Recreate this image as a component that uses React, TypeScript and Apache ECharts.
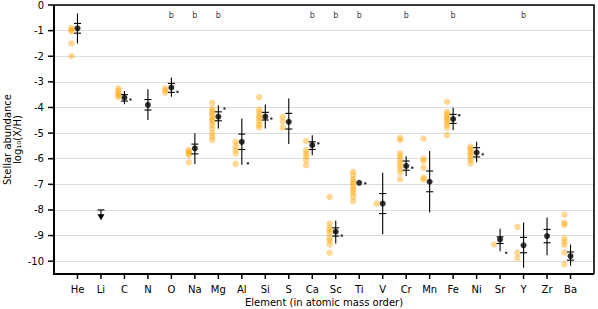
import React, { useEffect, useRef } from "react";
import * as echarts from "echarts";

const elements = ["He", "Li", "C", "N", "O", "Na", "Mg", "Al", "Si", "S", "Ca", "Sc", "Ti", "V", "Cr", "Mn", "Fe", "Ni", "Sr", "Y", "Zr", "Ba"];

const observed: number[][] = [
  [-0.9, -0.97, -1.02, -1.5, -2.0],
  [],
  [-3.25, -3.35, -3.45, -3.52, -3.6],
  [],
  [-3.25, -3.33, -3.42],
  [-5.66, -5.72, -5.8, -5.85, -6.14],
  [-3.82, -4.06, -4.14, -4.24, -4.36, -4.46, -4.55, -4.68, -4.82, -4.99, -5.14, -5.27],
  [-5.34, -5.5, -5.66, -5.8, -6.2],
  [-3.6, -4.08, -4.2, -4.33, -4.42, -4.55, -4.68, -4.78],
  [-4.36, -4.55, -4.79],
  [-5.31, -5.66, -5.8, -5.9, -6.05, -6.25],
  [-7.49, -8.53, -8.7, -8.79, -8.92, -9.1, -9.2, -9.35, -9.67],
  [-6.51, -6.64, -6.8, -6.9, -7.0, -7.12, -7.22, -7.35, -7.48, -7.66],
  [-7.75],
  [-5.18, -5.27, -5.79, -5.9, -6.02, -6.15, -6.28, -6.4, -6.55, -6.8],
  [-5.21, -5.99, -6.09, -6.35, -6.74, -6.8],
  [-3.78, -4.17, -4.27, -4.36, -4.45, -4.55, -4.66, -4.78, -5.08],
  [-5.53, -5.62, -5.72, -5.82, -5.92, -6.05, -6.18],
  [-9.35],
  [-8.66, -9.66, -9.87],
  [],
  [-8.18, -8.5, -8.58, -9.11, -9.24, -9.37, -9.66, -10.12],
];

const meanVals: (number | null)[] = [-0.91, null, -3.62, -3.9, -3.22, -5.6, -4.36, -5.34, -4.36, -4.56, -5.47, -8.85, -6.94, -7.75, -6.28, -6.9, -4.45, -5.76, -9.15, -9.38, -9.02, -9.8];

const outerLo: (number | null)[] = [-1.5, null, -3.87, -4.49, -3.58, -6.21, -4.82, -6.24, -4.82, -5.43, -5.86, -9.31, null, -8.95, -6.67, -8.1, -4.88, -6.14, -9.61, -10.26, -9.77, -10.18];
const outerHi: (number | null)[] = [-0.33, null, -3.36, -3.29, -2.83, -5.01, -3.91, -4.43, -3.88, -3.65, -5.08, -8.42, null, -6.55, -5.9, -5.7, -4.01, -5.34, -8.73, -8.49, -8.29, -9.35];
const innerLo: (number | null)[] = [-1.1, null, -3.75, -4.1, -3.41, -5.81, -4.52, -5.64, -4.49, -4.84, -5.64, -9.02, null, -8.14, -6.45, -7.29, -4.62, -5.93, -9.31, -9.67, -9.28, -9.96];
const innerHi: (number | null)[] = [-0.72, null, -3.5, -3.69, -3.06, -5.43, -4.17, -5.04, -4.19, -4.23, -5.34, -8.7, null, -7.36, -6.09, -6.48, -4.27, -5.57, -9.05, -9.07, -8.76, -9.64];

const modelVals: (number | null)[] = [null, null, -3.69, null, -3.39, null, -4.04, -6.18, -4.43, null, -5.4, -9.0, -6.96, null, -6.35, null, -4.3, -5.83, -9.67, null, null, null];

const flagged = ["O", "Na", "Mg", "Ca", "Sc", "Ti", "Cr", "Fe", "Y"];
const flagLevel = -0.42;

const limitElement = "Li";
const limitTop = -8.0;
const limitTip = -8.4;

const yTicks = [0, -1, -2, -3, -4, -5, -6, -7, -8, -9, -10];
const X_MIN = -1, X_MAX = 22, Y_MIN = -10.5, Y_MAX = 0;

const FONT = "DejaVu Sans";

export default function App() {
  const ref = useRef<HTMLDivElement>(null);
  useEffect(() => {
    if (!ref.current) return;
    const chart = echarts.init(ref.current, null, { renderer: "svg" });

    const obsData: number[][] = [];
    observed.forEach((arr, i) => arr.forEach((v) => obsData.push([i - 0.26, v])));

    const errData: number[][] = [];
    elements.forEach((_, i) => {
      if (outerLo[i] !== null && outerHi[i] !== null) {
        errData.push([i, outerLo[i] as number, outerHi[i] as number, innerLo[i] as number, innerHi[i] as number]);
      }
    });

    const meanData: number[][] = [];
    meanVals.forEach((v, i) => { if (v !== null) meanData.push([i, v]); });
    const modelData: number[][] = [];
    modelVals.forEach((v, i) => { if (v !== null) modelData.push([i + 0.26, v]); });
    const flagData = flagged.map((e) => [elements.indexOf(e), flagLevel]);
    const limIdx = elements.indexOf(limitElement);
    const xTickData = elements.map((_, i) => [i, Y_MIN]);
    const yTickData = yTicks.map((v) => [X_MIN, v]);

    const blk = { stroke: "#000", lineWidth: 1.1 };

    chart.setOption({
      animation: false,
      grid: {
        left: 54, right: 4, top: 5, bottom: 35,
        outerBoundsMode: "none", containLabel: false,
      },
      xAxis: {
        type: "value", min: X_MIN, max: X_MAX, interval: 1, position: "bottom",
        name: "Element (in atomic mass order)", nameLocation: "middle", nameGap: 23, nameMoveOverlap: false,
        nameTextStyle: { fontFamily: FONT, fontSize: 10, color: "#000" },
        axisLine: { show: false },
        axisTick: { show: false },
        axisLabel: {
          margin: 10, fontFamily: FONT, fontSize: 10, color: "#000",
          formatter: (v: number) => elements[Math.round(v)] ?? "",
        },
        splitLine: { show: false },
      },
      yAxis: {
        type: "value", min: Y_MIN, max: Y_MAX, splitNumber: 10, position: "left",
        name: "Stellar abundance\nlog\u2081\u2080(X/H)", nameLocation: "middle", nameGap: 31, nameMoveOverlap: false,
        nameTextStyle: { fontFamily: FONT, fontSize: 10, color: "#000", lineHeight: 10.5 },
        axisLine: { show: false },
        axisTick: { show: false },
        axisLabel: {
          margin: 10, fontFamily: FONT, fontSize: 10, color: "#000",
          formatter: (v: number) => (Number.isInteger(v) ? String(v) : ""),
        },
        splitLine: { show: true, lineStyle: { color: "#dcdcdc", width: 1.2 } },
      },
      series: [
        {
          type: "scatter", data: obsData, symbolSize: 6.5, z: 2,
          itemStyle: { color: "#ffa500", opacity: 0.42 },
        },
        {
          type: "custom", data: errData, z: 3,
          encode: { x: 0, y: [1, 2] },
          renderItem: (params: any, api: any) => {
            const i = api.value(0);
            const a = api.coord([i, api.value(1)]);
            const b = api.coord([i, api.value(2)]);
            const c = api.coord([i, api.value(3)]);
            const d = api.coord([i, api.value(4)]);
            const hw = 3.5;
            return {
              type: "group",
              children: [
                { type: "line", shape: { x1: a[0], y1: a[1], x2: b[0], y2: b[1] }, style: blk },
                { type: "line", shape: { x1: c[0] - hw, y1: c[1], x2: c[0] + hw, y2: c[1] }, style: blk },
                { type: "line", shape: { x1: d[0] - hw, y1: d[1], x2: d[0] + hw, y2: d[1] }, style: blk },
              ],
            };
          },
        },
        {
          type: "custom", data: [[limIdx, limitTop, limitTip]], z: 3,
          encode: { x: 0, y: [1, 2] },
          renderItem: (params: any, api: any) => {
            const i = api.value(0);
            const t = api.coord([i, api.value(1)]);
            const p = api.coord([i, api.value(2)]);
            return {
              type: "group",
              children: [
                { type: "line", shape: { x1: t[0], y1: t[1], x2: p[0], y2: p[1] - 4 }, style: blk },
                { type: "line", shape: { x1: t[0] - 3.5, y1: t[1], x2: t[0] + 3.5, y2: t[1] }, style: blk },
                { type: "polygon", shape: { points: [[p[0] - 3.5, p[1] - 6], [p[0] + 3.5, p[1] - 6], [p[0], p[1]]] }, style: { fill: "#000" } },
              ],
            };
          },
        },
        {
          type: "scatter", data: meanData, symbolSize: 6, z: 4,
          itemStyle: { color: "#000" },
        },
        {
          type: "scatter", data: modelData, symbolSize: 2.5, z: 4,
          itemStyle: { color: "#000" },
        },
        {
          type: "scatter", data: flagData, symbolSize: 1, z: 4,
          itemStyle: { color: "transparent" },
          label: { show: true, position: "inside", formatter: "b", fontFamily: FONT, fontSize: 8, color: "#000" },
        },
        {
          type: "custom", data: xTickData, z: 6, clip: false,
          encode: { x: 0, y: 1 },
          renderItem: (params: any, api: any) => {
            const p = api.coord([api.value(0), api.value(1)]);
            return { type: "line", shape: { x1: p[0], y1: p[1], x2: p[0], y2: p[1] + 5 }, style: { stroke: "#000", lineWidth: 1.5 } };
          },
        },
        {
          type: "custom", data: yTickData, z: 6, clip: false,
          encode: { x: 0, y: 1 },
          renderItem: (params: any, api: any) => {
            const p = api.coord([api.value(0), api.value(1)]);
            return { type: "line", shape: { x1: p[0] - 6, y1: p[1], x2: p[0], y2: p[1] }, style: { stroke: "#000", lineWidth: 1.5 } };
          },
        },
        {
          type: "custom", data: [[X_MIN, Y_MIN, X_MAX, Y_MAX]], z: 7, clip: false,
          encode: { x: [0, 2], y: [1, 3] },
          renderItem: (params: any, api: any) => {
            const bl = api.coord([api.value(0), api.value(1)]);
            const tr = api.coord([api.value(2), api.value(3)]);
            return {
              type: "group",
              children: [
                { type: "polyline", shape: { points: [[bl[0], tr[1]], [tr[0], tr[1]], [tr[0], bl[1]]] }, style: { stroke: "#000", lineWidth: 1.6, fill: "none" } },
                { type: "polyline", shape: { points: [[bl[0], tr[1]], [bl[0], bl[1]], [tr[0], bl[1]]] }, style: { stroke: "#000", lineWidth: 2, fill: "none" } },
              ],
            };
          },
        },
      ],
    });
    return () => chart.dispose();
  }, []);
  return <div ref={ref} style={{ width: 598, height: 309, position: "absolute", left: 0, top: 0 }} />;
}
